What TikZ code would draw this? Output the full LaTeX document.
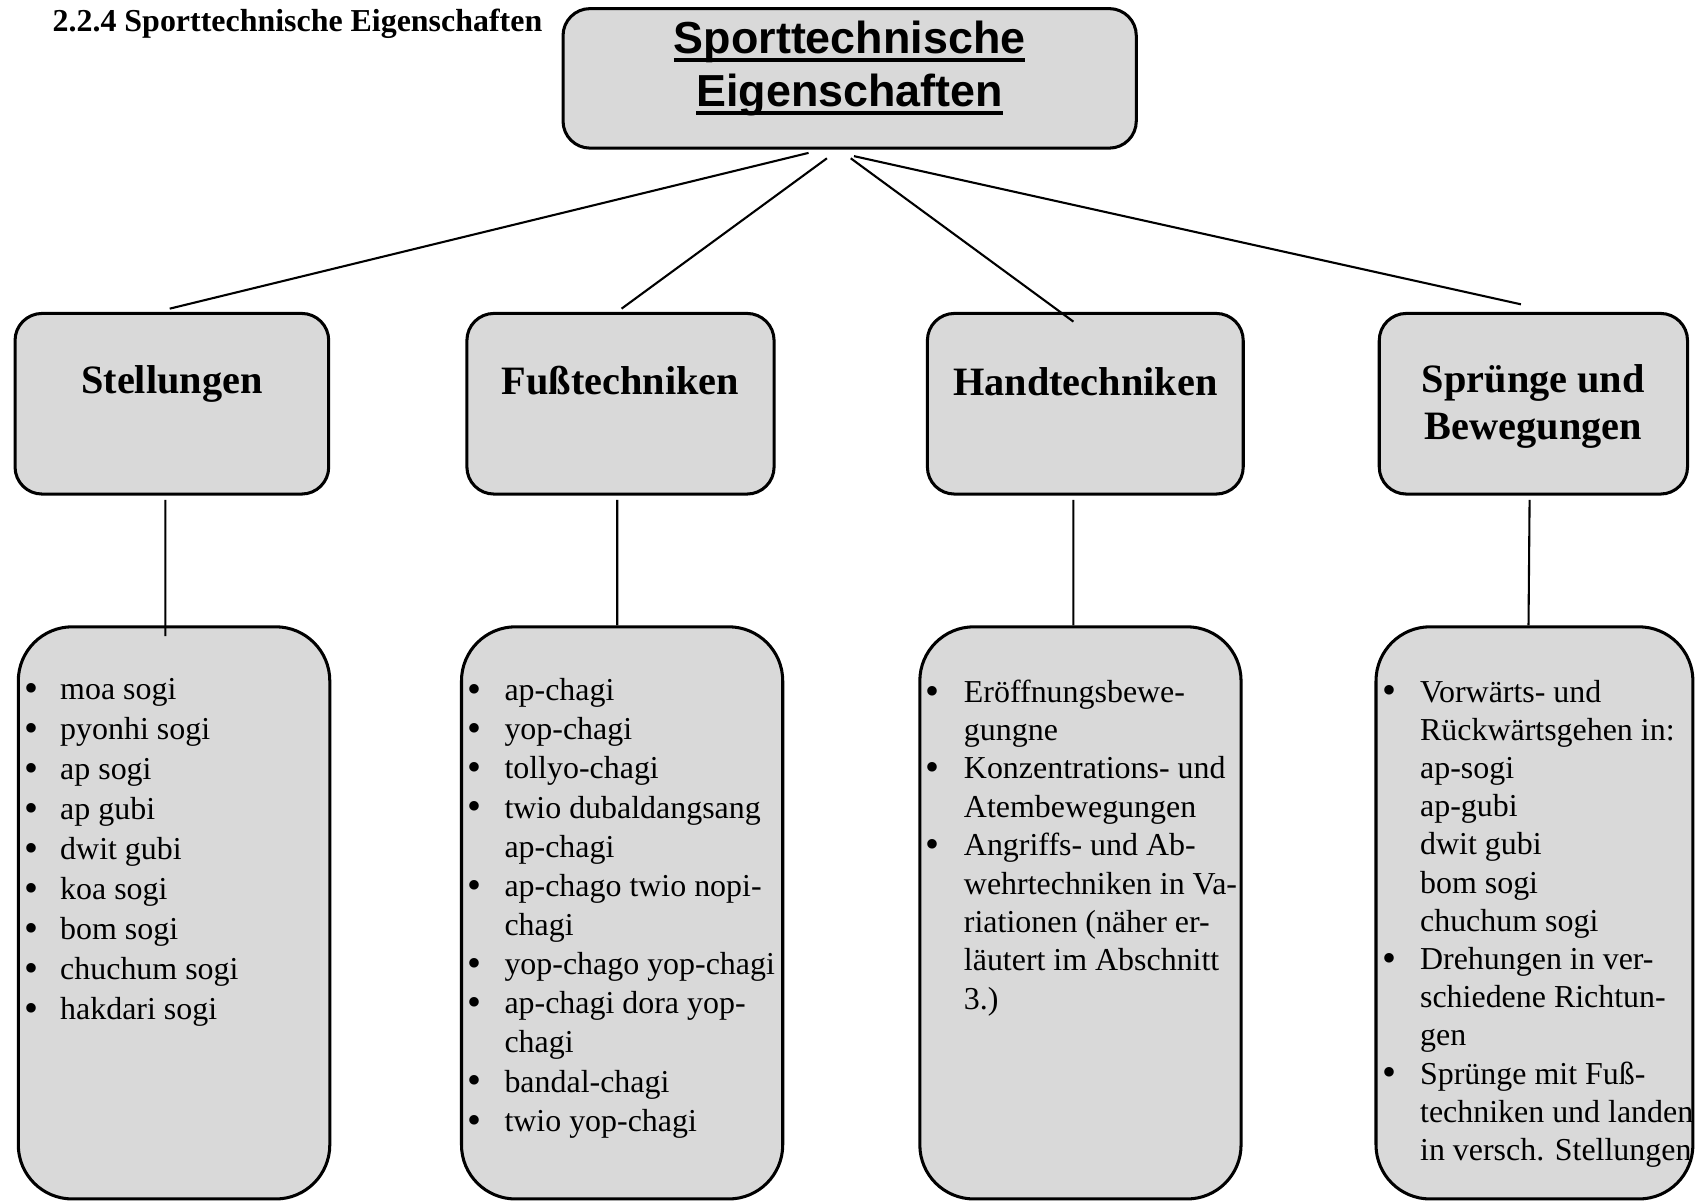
\documentclass[tikz,border=0pt]{standalone}
\usepackage{fontspec}
\setmainfont{Liberation Serif}
\newfontfamily\titlefont{Liberation Sans}
\definecolor{boxgray}{RGB}{217,217,217}
\newcommand\bul{\raisebox{-0.5pt}{\fontsize{10.5}{0}\selectfont\textbullet}}
\newcommand\tul[1]{\setbox0\hbox{#1}\rlap{\rule[-2.4pt]{\wd0}{1.1pt}}\box0}
\begin{document}
\begin{tikzpicture}
        [x=0.01cm, y=-0.01cm,
        box/.style={draw, fill=boxgray, rounded corners=0.25cm, inner sep=0pt, line width=0.8pt},
        listbox/.style={box, rounded corners=0.5cm},
        head/.style={font=\fontsize{10.6}{12.6}\selectfont\bfseries, align=center, inner sep=0pt},
        items/.style={anchor=north west, inner sep=0pt, align=left},
        edge/.style={black, line width=0.55pt}]

        \useasboundingbox (0,0) rectangle (1568,1113);

        % section heading
        \node[anchor=west, inner sep=0pt, font=\fontsize{8.4}{10}\selectfont\bfseries] (sec) at (48,22) {2.2.4 Sporttechnische Eigenschaften};

        % top box
        \node[box, minimum width=5.3cm, minimum height=1.29cm] (top) at (786,72.5) {};
        \node[align=center, inner sep=0pt, font=\titlefont\fontsize{11.8}{13.9}\selectfont\bfseries] (toptext) at (786,63)
            {\tul{Sporttechnische}\\\tul{Eigenschaften}};

        % second row
        \node[box, minimum width=2.9cm, minimum height=1.67cm] (stell) at (159,373.5) {};
        \node[box, minimum width=2.84cm, minimum height=1.67cm] (fuss) at (574,373.5) {};
        \node[box, minimum width=2.92cm, minimum height=1.67cm] (hand) at (1004,373.5) {};
        \node[box, minimum width=2.85cm, minimum height=1.67cm] (spr) at (1418.5,373.5) {};

        \node[head] (stelltext) at (159,355) {Stellungen};
        \node[head] (fusstext) at (574,352) {Fußtechniken};
        \node[head] (handtext) at (1004,353) {Handtechniken};
        \node[head] (sprtext) at (1418.5,376) {Sprünge und\\Bewegungen};

        % list boxes
        \node[listbox, minimum width=2.88cm, minimum height=5.29cm] (stelllist) at (161,844.5) {};
        \node[listbox, minimum width=2.97cm, minimum height=5.29cm] (fusslist) at (575.5,844.5) {};
        \node[listbox, minimum width=2.97cm, minimum height=5.29cm] (handlist) at (999.5,844.5) {};
        \node[listbox, minimum width=2.93cm, minimum height=5.29cm] (sprlist) at (1419.5,844.5) {};

        \node[items, font=\fontsize{8.4}{10.5}\selectfont] (stellitems) at (22,621)
            {\begin{tabular}{@{}p{0.33cm}@{}l@{}}
            \bul & moa sogi\\
            \bul & pyonhi sogi\\
            \bul & ap sogi\\
            \bul & ap gubi\\
            \bul & dwit gubi\\
            \bul & koa sogi\\
            \bul & bom sogi\\
            \bul & chuchum sogi\\
            \bul & hakdari sogi
            \end{tabular}};

        \node[items, font=\fontsize{8.4}{10.3}\selectfont] (fussitems) at (432,622)
            {\begin{tabular}{@{}p{0.34cm}@{}l@{}}
            \bul & ap-chagi\\
            \bul & yop-chagi\\
            \bul & tollyo-chagi\\
            \bul & twio dubaldangsang\\
                 & ap-chagi\\
            \bul & ap-chago twio nopi-\\
                 & chagi\\
            \bul & yop-chago yop-chagi\\
            \bul & ap-chagi dora yop-\\
                 & chagi\\
            \bul & bandal-chagi\\
            \bul & twio yop-chagi
            \end{tabular}};

        \node[items, font=\fontsize{8.4}{10.1}\selectfont] (handitems) at (855,624)
            {\begin{tabular}{@{}p{0.36cm}@{}l@{}}
            \bul & Eröffnungsbewe-\\
                 & gungne\\
            \bul & Konzentrations- und\\
                 & Atembewegungen\\
            \bul & Angriffs- und Ab-\\
                 & wehrtechniken in Va-\\
                 & riationen (näher er-\\
                 & läutert im Abschnitt\\
                 & 3.)
            \end{tabular}};

        \node[items, font=\fontsize{8.4}{10.05}\selectfont] (spritems) at (1278,624)
            {\begin{tabular}{@{}p{0.35cm}@{}l@{}}
            \bul & Vorwärts- und\\
                 & Rückwärtsgehen in:\\
                 & ap-sogi\\
                 & ap-gubi\\
                 & dwit gubi\\
                 & bom sogi\\
                 & chuchum sogi\\
            \bul & Drehungen in ver-\\
                 & schiedene Richtun-\\
                 & gen\\
            \bul & Sprünge mit Fuß-\\
                 & techniken und landen\\
                 & in versch. Stellungen
            \end{tabular}};

        % lines from the top box
        \draw[edge] ([xshift=-0.38cm,yshift=-0.03cm]top.south) -- ([xshift=-0.02cm,yshift=0.03cm]stell.north);
        \draw[edge] ([xshift=-0.21cm,yshift=-0.08cm]top.south) -- ([xshift=0.01cm,yshift=0.03cm]fuss.north);
        \draw[edge] ([xshift=0.01cm,yshift=-0.08cm]top.south) -- ([xshift=-0.11cm,yshift=-0.09cm]hand.north);
        \draw[edge] ([xshift=0.04cm,yshift=-0.06cm]top.south) -- ([xshift=-0.115cm,yshift=0.07cm]spr.north);

        % lines down to the lists
        \draw[edge] ([xshift=-0.06cm,yshift=-0.04cm]stell.south) -- ([xshift=-0.08cm,yshift=-0.10cm]stelllist.north);
        \draw[edge] ([xshift=-0.03cm,yshift=-0.04cm]fuss.south) -- ([xshift=-0.045cm]fusslist.north);
        \draw[edge] ([xshift=-0.11cm,yshift=-0.04cm]hand.south) -- ([xshift=-0.065cm]handlist.north);
        \draw[edge] ([xshift=-0.035cm,yshift=-0.04cm]spr.south) -- ([xshift=-0.055cm]sprlist.north);

    \end{tikzpicture}
\end{document}
